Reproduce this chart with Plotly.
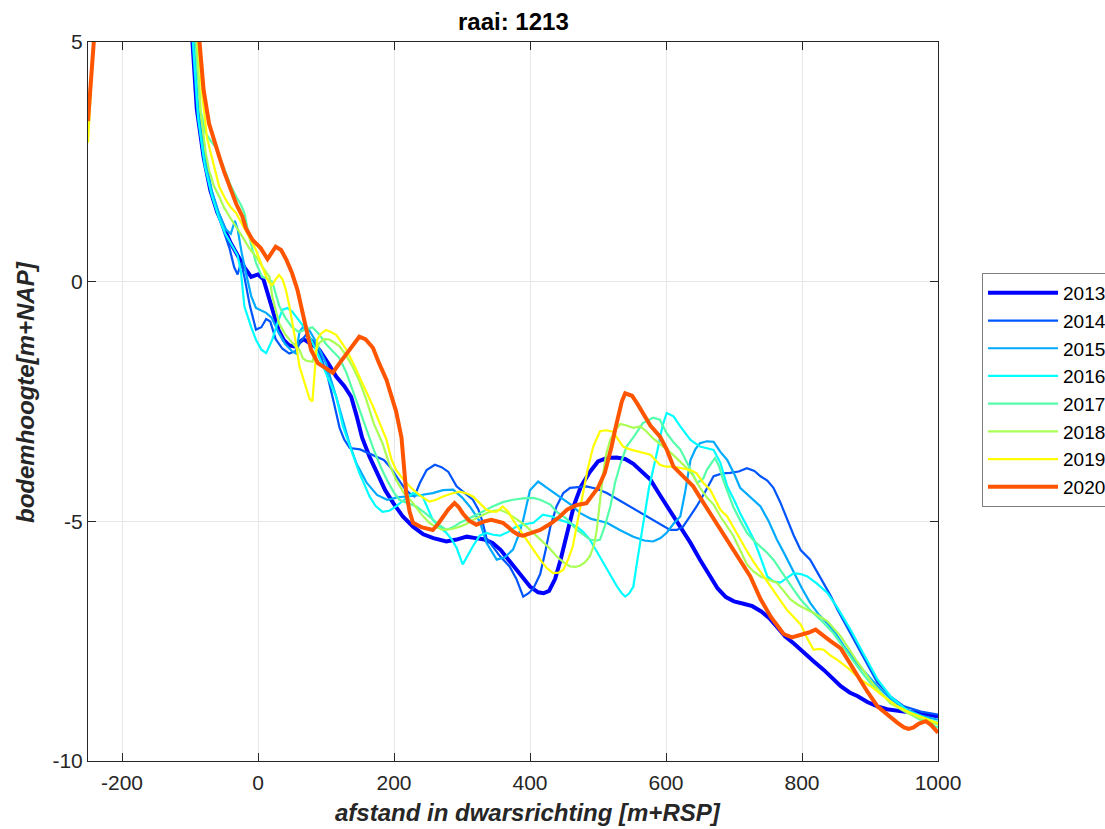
import plotly.graph_objects as go

# ---------------- data ----------------
YEARS = ["2013", "2014", "2015", "2016", "2017", "2018", "2019", "2020"]
COLORS = ["#0000FF", "#0055FF", "#00AAFF", "#00FFFF", "#55FFAA", "#AAFF55", "#FFFF00", "#FF5500"]
WIDTHS = [4.0, 2.2, 2.2, 2.2, 2.2, 2.2, 2.2, 4.0]

X_TICKS = [-200, 0, 200, 400, 600, 800, 1000]
Y_TICKS = [-10, -5, 0, 5]

P2013 = [(-110, 8.0), (-97, 5.0), (-90, 3.6), (-80, 2.6), (-70, 1.9), (-60, 1.45), (-50, 1.1), (-40, 0.8),
         (-30, 0.55), (-20, 0.3), (-10, 0.1), (0, 0.15), (8, 0.05), (14, -0.22), (21, -0.6), (30, -1.0),
         (38, -1.22), (46, -1.33), (53, -1.35), (60, -1.28), (67, -1.2), (78, -1.3), (90, -1.42), (103, -1.7),
         (115, -1.98), (127, -2.18), (137, -2.4), (145, -2.8), (153, -3.25), (164, -3.65), (175, -4.0),
         (187, -4.35), (199, -4.62), (213, -4.9), (228, -5.11), (243, -5.27), (258, -5.35), (277, -5.42),
         (292, -5.38), (307, -5.32), (320, -5.35), (333, -5.38), (345, -5.45), (357, -5.6), (366, -5.76),
         (376, -5.94), (388, -6.15), (400, -6.36), (412, -6.48), (420, -6.5), (428, -6.45), (437, -6.2),
         (445, -5.8), (455, -5.18), (465, -4.65), (475, -4.27), (488, -3.97), (500, -3.75), (513, -3.68),
         (527, -3.67), (540, -3.7), (552, -3.8), (563, -3.95), (577, -4.13), (591, -4.45), (605, -4.75),
         (620, -5.1), (636, -5.45), (650, -5.8), (663, -6.12), (676, -6.4), (688, -6.58), (700, -6.67),
         (714, -6.72), (727, -6.77), (740, -6.88), (752, -7.02), (763, -7.2), (775, -7.4), (788, -7.55),
         (802, -7.74), (817, -7.92), (832, -8.1), (845, -8.28), (857, -8.44), (870, -8.57), (882, -8.65),
         (896, -8.77), (911, -8.86), (925, -8.92), (940, -8.96), (955, -8.98), (970, -8.99), (985, -9.03),
         (1000, -9.07)]

P2014 = [(-110, 8.0), (-96, 5.0), (-90, 3.7), (-80, 2.6), (-70, 1.95), (-60, 1.45), (-50, 1.05), (-42, 0.7),
         (-35, 0.3), (-30, 0.15), (-25, 0.4), (-20, 0.1), (-12, -0.5), (-3, -1.0), (5, -0.95), (12, -0.78),
         (18, -0.83), (26, -1.2), (36, -1.4), (46, -1.5), (55, -1.45), (63, -1.25), (71, -1.1), (82, -1.25),
         (92, -1.55), (102, -1.95), (112, -2.55), (120, -3.05), (127, -3.3), (135, -3.47), (150, -3.5),
         (163, -3.58), (174, -3.65), (185, -3.72), (194, -3.86), (205, -4.1), (215, -4.3), (223, -4.42),
         (230, -4.48), (238, -4.2), (248, -3.93), (260, -3.82), (270, -3.87), (280, -3.97), (292, -4.27),
         (305, -4.42), (316, -4.55), (324, -4.75), (330, -5.0), (336, -5.35), (346, -5.55), (356, -5.73),
         (370, -5.94), (380, -6.2), (390, -6.57), (398, -6.5), (405, -6.4), (415, -6.1), (423, -5.6),
         (430, -5.11), (439, -4.69), (449, -4.41), (459, -4.3), (470, -4.28), (483, -4.27), (498, -4.32),
         (513, -4.41), (530, -4.55), (547, -4.69), (565, -4.85), (581, -4.97), (595, -5.1), (606, -5.18),
         (616, -5.18), (625, -5.11), (635, -4.9), (645, -4.69), (657, -4.4), (670, -4.06), (683, -4.0),
         (694, -3.99), (707, -3.96), (719, -3.89), (730, -3.95), (739, -4.06), (749, -4.15), (758, -4.3),
         (768, -4.6), (778, -4.95), (788, -5.3), (798, -5.6), (812, -5.8), (822, -6.05), (832, -6.3),
         (842, -6.55), (852, -6.84), (866, -7.2), (881, -7.61), (896, -8.0), (911, -8.37), (930, -8.65),
         (950, -8.86), (975, -8.97), (1000, -9.03)]

P2015 = [(-110, 8.0), (-95, 5.0), (-88, 3.6), (-78, 2.6), (-68, 1.9), (-58, 1.45), (-48, 1.1), (-40, 1.0),
         (-34, 1.27), (-30, 1.1), (-24, 0.6), (-18, 0.2), (-10, -0.3), (-3, -0.55), (5, -0.6), (12, -0.65),
         (20, -0.75), (30, -1.05), (40, -1.3), (50, -1.45), (56, -1.5), (61, -1.05), (66, -0.95), (75, -1.0),
         (85, -1.25), (100, -1.7), (115, -2.4), (125, -2.9), (135, -3.4), (145, -3.8), (160, -4.2),
         (175, -4.45), (190, -4.55), (205, -4.5), (223, -4.48), (240, -4.45), (257, -4.41), (272, -4.35),
         (287, -4.34), (300, -4.5), (312, -4.7), (326, -5.0), (336, -5.45), (351, -5.8), (363, -5.75),
         (375, -5.59), (383, -5.3), (390, -4.97), (400, -4.35), (412, -4.17), (425, -4.3), (444, -4.48),
         (460, -4.65), (474, -4.83), (490, -4.95), (513, -5.03), (532, -5.18), (552, -5.32), (568, -5.4),
         (581, -5.42), (592, -5.35), (601, -5.24), (611, -5.05), (621, -4.9), (628, -4.4), (636, -3.72),
         (643, -3.5), (650, -3.37), (660, -3.33), (670, -3.34), (680, -3.55), (690, -3.72), (700, -4.0),
         (709, -4.3), (724, -4.5), (739, -4.69), (751, -5.0), (763, -5.38), (775, -5.7), (788, -6.08),
         (800, -6.4), (812, -6.7), (825, -6.95), (837, -7.12), (850, -7.35), (862, -7.61), (880, -7.95),
         (896, -8.2), (911, -8.44), (930, -8.7), (950, -8.9), (975, -9.05), (1000, -9.14)]

P2016 = [(-110, 8.0), (-95, 5.0), (-88, 3.4), (-78, 2.4), (-68, 1.8), (-58, 1.35), (-48, 1.0), (-38, 0.75),
         (-30, 0.55), (-25, 0.2), (-20, -0.52), (-10, -0.95), (-3, -1.21), (5, -1.42), (12, -1.49),
         (21, -1.21), (30, -0.8), (36, -0.59), (43, -0.55), (50, -0.62), (56, -0.73), (63, -0.85),
         (71, -1.01), (85, -1.42), (100, -1.9), (115, -2.4), (125, -3.02), (130, -3.23), (140, -3.65),
         (149, -3.99), (157, -4.25), (164, -4.48), (173, -4.68), (183, -4.8), (193, -4.78), (203, -4.69),
         (215, -4.55), (228, -4.41), (242, -4.48), (250, -4.75), (257, -4.97), (267, -5.12), (277, -5.24),
         (285, -5.38), (292, -5.55), (301, -5.9), (308, -5.72), (316, -5.52), (326, -5.3), (336, -5.24),
         (346, -5.28), (356, -5.3), (368, -5.22), (380, -5.11), (392, -5.06), (405, -5.03), (419, -4.86),
         (432, -4.9), (444, -4.97), (457, -5.03), (469, -5.11), (478, -5.22), (488, -5.38), (497, -5.6),
         (507, -5.87), (518, -6.12), (528, -6.36), (535, -6.5), (540, -6.57), (546, -6.5), (552, -6.36),
         (558, -5.8), (566, -5.1), (575, -4.3), (587, -3.55), (595, -3.0), (601, -2.74), (611, -2.81),
         (621, -3.02), (636, -3.3), (650, -3.44), (660, -3.48), (670, -3.51), (680, -3.78), (690, -4.27),
         (700, -4.55), (709, -4.83), (719, -5.1), (729, -5.38), (739, -5.75), (749, -6.15), (758, -6.25),
         (768, -6.28), (778, -6.18), (788, -6.08), (798, -6.1), (808, -6.15), (822, -6.3), (837, -6.49),
         (852, -6.8), (871, -7.25), (890, -7.75), (911, -8.3), (930, -8.65), (955, -8.95), (980, -9.1),
         (1000, -9.2)]

P2017 = [(-110, 8.0), (-92, 5.0), (-85, 3.6), (-77, 3.1), (-70, 2.95), (-62, 2.8), (-55, 2.55), (-47, 2.27),
         (-40, 2.0), (-32, 1.77), (-25, 1.6), (-20, 1.43), (-13, 0.94), (-3, 0.39), (6, 0.1), (15, 0.05),
         (21, 0.0), (31, -0.5), (40, -0.75), (50, -0.95), (60, -1.05), (70, -1.0), (80, -0.95), (90, -1.1),
         (100, -1.3), (110, -1.45), (120, -1.6), (130, -1.9), (140, -2.3), (150, -2.7), (160, -3.1),
         (170, -3.5), (180, -3.85), (190, -4.15), (200, -4.4), (208, -4.55), (220, -4.62), (233, -4.69),
         (245, -4.82), (257, -4.97), (267, -5.08), (277, -5.18), (287, -5.12), (297, -5.03), (312, -4.93),
         (326, -4.83), (345, -4.69), (360, -4.6), (375, -4.55), (390, -4.52), (405, -4.51), (415, -4.55),
         (430, -4.65), (439, -4.8), (454, -4.95), (469, -5.18), (478, -5.27), (488, -5.38), (498, -5.4),
         (503, -5.38), (510, -5.1), (518, -4.7), (525, -4.2), (533, -3.8), (542, -3.44), (552, -3.25),
         (566, -2.95), (581, -2.84), (591, -2.88), (601, -3.16), (611, -3.35), (621, -3.5), (630, -3.75),
         (640, -4.05), (646, -4.2), (655, -4.1), (660, -3.93), (667, -3.78), (672, -3.68), (678, -3.85),
         (684, -4.13), (691, -4.4), (699, -4.7), (709, -4.98), (719, -5.24), (729, -5.4), (739, -5.52),
         (749, -5.66), (758, -5.8), (768, -6.0), (778, -6.22), (788, -6.43), (798, -6.63), (812, -6.85),
         (827, -7.05), (846, -7.33), (865, -7.7), (885, -8.1), (905, -8.45), (925, -8.7), (950, -8.95),
         (975, -9.15), (1000, -9.3)]

P2018 = [(-110, 8.0), (-90, 5.0), (-84, 3.5), (-77, 2.7), (-72, 2.33), (-65, 2.0), (-57, 1.77), (-50, 1.55),
         (-42, 1.36), (-32, 1.15), (-23, 0.94), (-13, 0.7), (-3, 0.52), (7, 0.3), (17, 0.1), (21, -0.31),
         (31, -0.87), (40, -1.1), (46, -1.21), (55, -1.35), (61, -1.42), (66, -1.6), (71, -1.65), (80, -1.67),
         (85, -1.45), (90, -1.28), (97, -1.2), (105, -1.21), (112, -1.27), (120, -1.35), (130, -1.55),
         (139, -1.77), (149, -2.07), (159, -2.45), (170, -2.95), (183, -3.37), (193, -3.8), (203, -4.13),
         (215, -4.42), (228, -4.62), (240, -4.85), (252, -5.03), (262, -5.12), (272, -5.18), (285, -5.16),
         (297, -5.11), (307, -5.05), (316, -4.97), (326, -4.9), (336, -4.83), (346, -4.78), (356, -4.76),
         (366, -4.82), (375, -4.9), (385, -5.0), (395, -5.11), (405, -5.25), (415, -5.38), (428, -5.55),
         (439, -5.73), (449, -5.85), (459, -5.94), (467, -5.95), (474, -5.92), (481, -5.85), (488, -5.73),
         (494, -5.5), (498, -5.2), (503, -4.6), (507, -4.06), (512, -3.6), (518, -3.3), (525, -3.1),
         (533, -2.97), (542, -3.0), (552, -3.05), (562, -3.02), (571, -3.12), (581, -3.27), (591, -3.38),
         (601, -3.5), (611, -3.62), (621, -3.75), (630, -3.88), (640, -4.05), (650, -4.3), (660, -4.5),
         (670, -4.65), (680, -4.9), (690, -5.1), (699, -5.3), (709, -5.6), (719, -5.9), (729, -6.05),
         (739, -6.15), (751, -6.22), (763, -6.28), (773, -6.45), (783, -6.63), (795, -6.75), (808, -6.84),
         (822, -6.95), (837, -7.08), (857, -7.4), (880, -7.9), (905, -8.4), (930, -8.8), (955, -9.0),
         (980, -9.15), (1000, -9.24)]

P2019 = [(-250, 2.9), (-246, 4.0), (-241, 5.2), (-236, 6.5), (-110, 8.0), (-88, 5.0), (-82, 3.9), (-75, 3.0),
         (-68, 2.6), (-62, 2.25), (-57, 1.98), (-47, 1.7), (-40, 1.55), (-32, 1.43), (-25, 1.25), (-18, 1.08),
         (-10, 0.85), (-3, 0.66), (5, 0.35), (12, 0.1), (17, -0.03), (21, -0.07), (26, 0.05), (31, 0.14),
         (36, 0.05), (41, -0.17), (46, -0.5), (51, -0.87), (56, -1.3), (61, -1.77), (70, -2.15), (76, -2.45),
         (80, -2.5), (83, -2.0), (87, -1.21), (93, -1.08), (100, -1.01), (107, -1.05), (115, -1.11),
         (122, -1.25), (130, -1.42), (140, -1.7), (149, -1.98), (159, -2.3), (169, -2.6), (179, -2.95),
         (189, -3.3), (196, -3.7), (203, -3.93), (215, -4.15), (228, -4.34), (240, -4.48), (252, -4.59),
         (262, -4.55), (272, -4.48), (285, -4.42), (297, -4.38), (307, -4.42), (316, -4.48), (326, -4.62),
         (336, -4.76), (344, -4.8), (351, -4.8), (360, -4.69), (368, -4.8), (375, -4.97), (385, -5.18),
         (395, -5.38), (405, -5.6), (415, -5.8), (425, -5.98), (434, -6.08), (442, -6.07), (449, -6.01),
         (456, -5.8), (463, -5.52), (470, -5.0), (478, -4.41), (485, -3.9), (493, -3.44), (503, -3.12),
         (512, -3.1), (522, -3.13), (530, -3.3), (537, -3.44), (547, -3.5), (557, -3.54), (567, -3.58),
         (577, -3.61), (591, -3.82), (600, -3.86), (611, -3.86), (625, -3.9), (636, -3.93), (645, -4.0),
         (655, -4.2), (665, -4.34), (680, -4.76), (690, -4.9), (700, -5.15), (709, -5.4), (719, -5.62),
         (729, -5.85), (739, -6.05), (749, -6.25), (759, -6.45), (768, -6.63), (778, -6.85), (788, -7.0),
         (798, -7.15), (808, -7.45), (817, -7.68), (825, -7.66), (832, -7.68), (842, -7.8), (852, -7.89),
         (862, -8.0), (871, -8.1), (886, -8.3), (901, -8.44), (920, -8.65), (940, -8.86), (960, -9.0),
         (980, -9.1), (1000, -9.21)]

P2020 = [(-250, 3.35), (-245, 4.2), (-241, 5.1), (-236, 6.5), (-110, 8.0), (-86, 5.0), (-80, 4.0), (-72, 3.3),
         (-65, 2.95), (-57, 2.61), (-50, 2.3), (-42, 1.98), (-32, 1.62), (-23, 1.36), (-18, 1.12), (-8, 0.87),
         (4, 0.7), (14, 0.47), (20, 0.6), (26, 0.73), (34, 0.66), (42, 0.45), (50, 0.18), (58, -0.17),
         (68, -0.8), (78, -1.42), (88, -1.7), (95, -1.77), (103, -1.85), (110, -1.9), (120, -1.7), (130, -1.5),
         (140, -1.3), (149, -1.15), (158, -1.2), (169, -1.38), (178, -1.7), (189, -2.05), (198, -2.47),
         (203, -2.7), (211, -3.25), (215, -3.9), (218, -4.41), (223, -4.8), (228, -5.03), (240, -5.12),
         (257, -5.18), (265, -5.05), (272, -4.9), (280, -4.75), (289, -4.62), (295, -4.7), (301, -4.83),
         (310, -4.98), (321, -5.07), (333, -5.0), (343, -4.97), (352, -5.0), (360, -5.03), (368, -5.12),
         (375, -5.21), (383, -5.28), (390, -5.3), (400, -5.25), (415, -5.18), (430, -5.05), (444, -4.9),
         (455, -4.75), (469, -4.66), (483, -4.62), (493, -4.45), (500, -4.3), (510, -3.99), (515, -3.75),
         (520, -3.44), (525, -3.1), (530, -2.81), (535, -2.5), (540, -2.33), (550, -2.38), (558, -2.55),
         (566, -2.74), (577, -3.0), (591, -3.23), (601, -3.5), (611, -3.86), (621, -4.0), (631, -4.13),
         (640, -4.27), (650, -4.5), (665, -4.83), (680, -5.18), (694, -5.5), (709, -5.8), (724, -6.15),
         (739, -6.62), (754, -6.99), (765, -7.2), (773, -7.35), (785, -7.42), (798, -7.37), (810, -7.32),
         (820, -7.26), (832, -7.4), (842, -7.5), (857, -7.65), (870, -7.95), (881, -8.23), (896, -8.55),
         (911, -8.86), (920, -8.97), (930, -9.07), (940, -9.2), (950, -9.3), (957, -9.33), (964, -9.3),
         (972, -9.22), (982, -9.17), (990, -9.25), (1000, -9.41)]

SERIES = [P2013, P2014, P2015, P2016, P2017, P2018, P2019, P2020]

# ---------------- layout constants ----------------
W, H = 1105, 829
ML, MR, MT, MB = 88, 167, 42, 68
PW, PH = W - ML - MR, H - MT - MB
FONT = "Liberation Sans, Arial, Helvetica, sans-serif"
AXC = "#262626"


def px_x(px):
    return (px - ML) / PW


def px_y(py):
    return (H - MB - py) / PH


fig = go.Figure()
for name, pts, col, wid in zip(YEARS, SERIES, COLORS, WIDTHS):
    fig.add_trace(go.Scatter(
        x=[p[0] for p in pts], y=[p[1] for p in pts], mode="lines", name=name,
        line=dict(color=col, width=wid), hoverinfo="x+y+name"))

axis_common = dict(
    showline=True, linecolor=AXC, linewidth=1, mirror="ticks",
    ticks="inside", ticklen=8, tickwidth=1, tickcolor=AXC,
    showgrid=True, gridcolor="#E6E6E6", gridwidth=1, zeroline=False,
    tickfont=dict(family=FONT, size=21, color=AXC),
)

fig.update_layout(
    width=W, height=H,
    margin=dict(l=ML, r=MR, t=MT, b=MB, autoexpand=False),
    paper_bgcolor="white", plot_bgcolor="white",
    xaxis=dict(range=[-250, 1000], tickvals=X_TICKS, ticktext=[str(v) for v in X_TICKS],
               ticklabelstandoff=3, **axis_common),
    yaxis=dict(range=[-10, 5], tickvals=Y_TICKS, ticktext=[str(v) for v in Y_TICKS], **axis_common),
    showlegend=True,
    legend=dict(
        x=px_x(982), y=px_y(273), xanchor="left", yanchor="top",
        bgcolor="white", bordercolor="#7F7F7F", borderwidth=1,
        font=dict(family=FONT, size=19, color="black"),
        itemwidth=70, tracegroupgap=0,
    ),
    annotations=[
        dict(text="<b>raai: 1213</b>", x=px_x(513), y=px_y(22), xref="paper", yref="paper",
             showarrow=False, xanchor="center", yanchor="middle",
             font=dict(family=FONT, size=24, color="black")),
        dict(text="<b><i>afstand in dwarsrichting [m+RSP]</i></b>", x=px_x(528), y=px_y(812),
             xref="paper", yref="paper", showarrow=False, xanchor="center", yanchor="middle",
             font=dict(family=FONT, size=24, color=AXC)),
        dict(text="<b><i>bodemhoogte[m+NAP]</i></b>", x=px_x(25), y=px_y(392),
             xref="paper", yref="paper", showarrow=False, xanchor="center", yanchor="middle",
             textangle=-90, font=dict(family=FONT, size=24, color=AXC)),
    ],
)

fig.write_html("out.html")
